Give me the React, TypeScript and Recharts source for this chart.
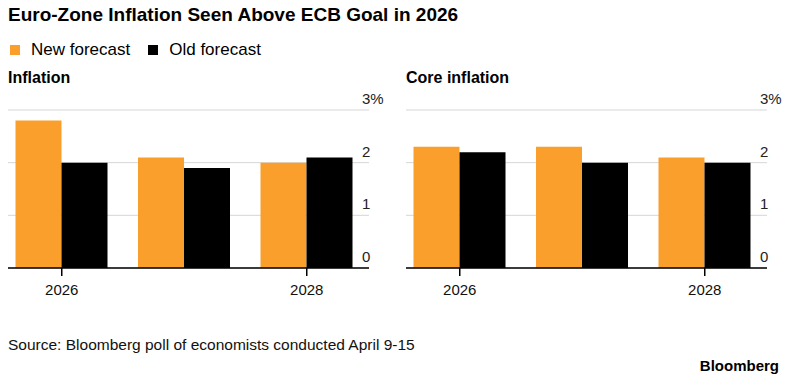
import { BarChart, Bar, XAxis, YAxis, CartesianGrid } from 'recharts';

const years = ['2026', '2027', '2028'];
const inflationNew = [2.8, 2.1, 2.0];
const inflationOld = [2.0, 1.9, 2.1];
const coreNew = [2.3, 2.3, 2.1];
const coreOld = [2.2, 2.0, 2.0];
const yTicks = [0, 1, 2, 3];
const labelledYears = ['2026', '2028'];

const ORANGE = '#fa9f2b';
const FONT = '"Liberation Sans", Arial, sans-serif';

const inflationData = years.map((y, i) => ({ year: y, newF: inflationNew[i], oldF: inflationOld[i] }));
const coreData = years.map((y, i) => ({ year: y, newF: coreNew[i], oldF: coreOld[i] }));

function YearTick(props: any) {
  const { x, y, payload } = props;
  if (!labelledYears.includes(payload.value)) return null;
  return (
    <g>
      <line x1={x} x2={x} y1={y} y2={y + 8} stroke="#000" strokeWidth={1.5} />
      <text x={x} y={y + 27} textAnchor="middle" fontSize={15} fill="#111" fontFamily={FONT}>
        {payload.value}
      </text>
    </g>
  );
}

function PctTick(props: any) {
  const { y, payload } = props;
  return (
    <text x={362} y={y - 6} textAnchor="start" fontSize={15} fill="#222" fontFamily={FONT}>
      {payload.value === 3 ? '3%' : payload.value}
    </text>
  );
}

function Panel({ data }: { data: any[] }) {
  return (
    <BarChart width={400} height={210} data={data} margin={{ top: 20, right: 0, bottom: 2, left: 8 }} barGap={0} barSize={46}>
      <CartesianGrid horizontal vertical={false} stroke="#d6d6d6" />
      <XAxis
        dataKey="year"
        height={30}
        padding={{ left: -7.5, right: 1 }}
        axisLine={{ stroke: '#000', strokeWidth: 1.5 }}
        tickLine={false}
        tickSize={0}
        tickMargin={0}
        interval={0}
        tick={<YearTick />}
      />
      <YAxis orientation="right" width={31} domain={[0, 3]} ticks={yTicks} axisLine={false} tickLine={false} tick={<PctTick />} />
      <Bar dataKey="newF" fill={ORANGE} isAnimationActive={false} />
      <Bar dataKey="oldF" fill="#000" isAnimationActive={false} />
    </BarChart>
  );
}

export default function App() {
  return (
    <div style={{ position: 'absolute', left: 0, top: 0, width: 797, height: 383, background: '#fff', overflow: 'hidden', fontFamily: FONT, color: '#000' }}>
      <div style={{ position: 'absolute', left: 8, top: 4, fontSize: 19, fontWeight: 700, whiteSpace: 'nowrap' }}>
        Euro-Zone Inflation Seen Above ECB Goal in 2026
      </div>
      <div style={{ position: 'absolute', left: 10, top: 40, display: 'flex', alignItems: 'center', fontSize: 17, whiteSpace: 'nowrap' }}>
        <span style={{ width: 10, height: 10, background: ORANGE, display: 'inline-block', marginRight: 11 }} />
        <span style={{ marginRight: 18 }}>New forecast</span>
        <span style={{ width: 10, height: 10, background: '#000', display: 'inline-block', marginRight: 11 }} />
        <span>Old forecast</span>
      </div>
      <div style={{ position: 'absolute', left: 8, top: 69, fontSize: 16, fontWeight: 700 }}>Inflation</div>
      <div style={{ position: 'absolute', left: 406, top: 69, fontSize: 16, fontWeight: 700 }}>Core inflation</div>
      <div style={{ position: 'absolute', left: 0, top: 90 }}>
        <Panel data={inflationData} />
      </div>
      <div style={{ position: 'absolute', left: 398, top: 90 }}>
        <Panel data={coreData} />
      </div>
      <div style={{ position: 'absolute', left: 8, top: 336, fontSize: 15.5, color: '#111', whiteSpace: 'nowrap' }}>
        Source: Bloomberg poll of economists conducted April 9-15
      </div>
      <div style={{ position: 'absolute', right: 18, top: 357, fontSize: 15, fontWeight: 700 }}>Bloomberg</div>
    </div>
  );
}
